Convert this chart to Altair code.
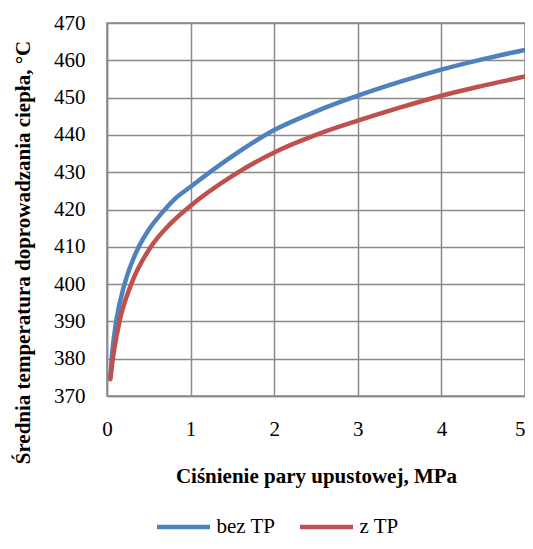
import altair as alt
import pandas as pd

# Data
bez_x = [0.04, 0.06, 0.11, 0.21, 0.38, 0.50, 0.65, 0.80, 1.0, 1.5, 2.0, 2.5, 3.0, 3.5, 4.0, 4.5, 5.0]
bez_y = [375.0, 381.0, 390.0, 400.0, 410.0, 414.6, 418.9, 422.6, 426.1, 434.3, 441.3, 446.3, 450.5, 454.2, 457.5, 460.3, 462.8]
z_x = [0.04, 0.07, 0.15, 0.29, 0.525, 0.75, 1.0, 1.5, 2.0, 2.5, 3.0, 3.5, 4.0, 4.5, 5.0]
z_y = [374.5, 380.0, 390.0, 400.0, 410.0, 416.0, 421.0, 429.0, 435.3, 440.0, 443.8, 447.3, 450.5, 453.2, 455.7]
series = ["bez TP", "z TP"]
colors = ["#4F81BD", "#C0504D"]
x_ticks = [0, 1, 2, 3, 4, 5]
y_ticks = [370, 380, 390, 400, 410, 420, 430, 440, 450, 460, 470]

df = pd.concat([
    pd.DataFrame({"p": bez_x, "t": bez_y, "s": series[0], "o": range(len(bez_x))}),
    pd.DataFrame({"p": z_x, "t": z_y, "s": series[1], "o": range(len(z_x))}),
])

FONT = "Liberation Serif"
GRID = "#8a8a8a"
FS = 21

chart = alt.Chart(df).mark_line(
    interpolate="monotone", strokeWidth=4.5, strokeCap="round", strokeJoin="round"
).encode(
    x=alt.X("p:Q", scale=alt.Scale(domain=[0, 5], nice=False),
            axis=alt.Axis(values=x_ticks, title="Ciśnienie pary upustowej, MPa",
                          labelPadding=22, titleBaseline="middle", titleY=80,
                          labelAlign={"condition": {"test": "datum.value == 5", "value": "right"},
                                      "value": "center"})),
    y=alt.Y("t:Q", scale=alt.Scale(domain=[370, 470], nice=False, zero=False),
            axis=alt.Axis(values=y_ticks,
                          title="Średnia temperatura doprowadzania ciepła, °C",
                          labelPadding=22, titleAngle=270, titleBaseline="middle",
                          titleAlign="center", titleX=-84, titleY=229)),
    color=alt.Color("s:N", scale=alt.Scale(domain=series, range=colors),
                    legend=alt.Legend(title=None, orient="none", direction="horizontal",
                                      legendX=47.5, legendY=475, symbolType="stroke",
                                      symbolSize=2809, symbolStrokeWidth=4.5,
                                      labelFont=FONT, labelFontSize=FS, labelColor="black",
                                      labelOffset=4, columnPadding=15, padding=0)),
    order="o:Q",
).properties(
    width=418, height=373,
    autosize=alt.AutoSizeParams(type="none"),
    padding={"left": 99, "top": 15, "right": 0, "bottom": 145},
).configure(
    font=FONT,
).configure_axis(
    labelFont=FONT, labelFontSize=FS, labelColor="black",
    titleFont=FONT, titleFontSize=FS, titleFontWeight="bold", titleColor="black",
    grid=True, gridColor=GRID, gridWidth=1.5, gridOpacity=1,
    domainColor=GRID, domainWidth=1.5, ticks=False,
).configure_view(stroke=GRID, strokeWidth=1.5)

chart.save("out.html", embed_options={"renderer": "svg", "actions": False})
